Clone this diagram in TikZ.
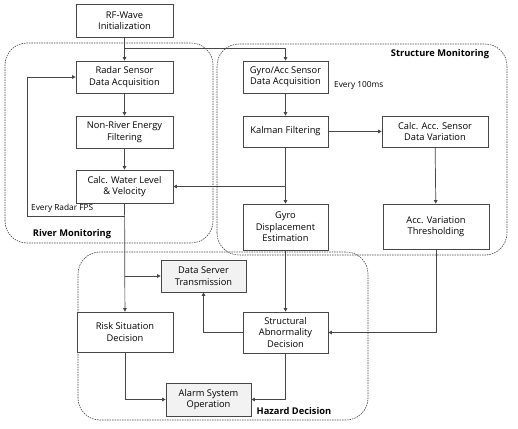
\documentclass[tikz,border=0pt]{standalone}
\usepackage{fontspec}
\setmainfont{Open Sans}
\usetikzlibrary{arrows.meta}
\definecolor{lineColor}{RGB}{70,70,70}
\definecolor{boxFill}{RGB}{242,242,242}
\tikzset{
  stagebox/.style={draw=lineColor,line width=0.7pt,fill=white,align=center,
    inner sep=0pt,font=\fontsize{9.3}{11.5}\selectfont},
  serverbox/.style={stagebox,fill=boxFill},
  flow/.style={draw=lineColor,line width=0.7pt,-{Triangle[length=3.5pt,width=3.5pt]}},
  group/.style={draw=lineColor,line width=0.6pt,dash pattern=on 1.5pt off 1pt,rounded corners=22pt},
  grouplabel/.style={font=\fontsize{9.3}{11}\selectfont\bfseries,inner sep=0pt},
  note/.style={font=\fontsize{8.3}{10}\selectfont,inner sep=0pt,anchor=west}
}
\begin{document}
\begin{tikzpicture}[x=1pt,y=1pt]
\path[use as bounding box,fill=white] (0,0) rectangle (518,428);

% monitoring groups
\draw[group] (  5.00,185.00) rectangle (213.00,385.00);
\draw[group] (217.00,173.00) rectangle (507.00,384.00);
\draw[group] ( 78.00,  8.00) rectangle (368.00,176.00);
\node[grouplabel] (rivlabel) at ( 72.00,194.00) {River Monitoring};
\node[grouplabel] (strlabel) at (440.00,374.00) {Structure Monitoring};
\node[grouplabel] (hazlabel) at (294.00, 17.00) {Hazard Decision};

% river branch
\node[stagebox,minimum width=97pt,minimum height=33pt] (rf) at (124.50,407.50) {RF-Wave\\Initialization};
\node[stagebox,minimum width=97pt,minimum height=32pt] (radar) at (124.50,351.00) {Radar Sensor\\Data Acquisition};
\node[stagebox,minimum width=97pt,minimum height=32pt] (nonriver) at (124.50,296.00) {Non-River Energy\\Filtering};
\node[stagebox,minimum width=97pt,minimum height=33pt] (water) at (124.50,241.50) {Calc. Water Level\\\& Velocity};

% structure branch
\node[stagebox,minimum width=85pt,minimum height=32pt] (gyroacc) at (285.50,351.00) {Gyro/Acc Sensor\\Data Acquisition};
\node[stagebox,minimum width=85pt,minimum height=31pt] (kalman) at (285.50,296.50) {Kalman Filtering};
\node[stagebox,minimum width=106pt,minimum height=31pt] (calcacc) at (435.00,296.50) {Calc. Acc. Sensor\\Data Variation};
\node[stagebox,minimum width=85pt,minimum height=46pt] (gyrodisp) at (285.50,201.00) {Gyro\\Displacement\\Estimation};
\node[stagebox,minimum width=106pt,minimum height=45pt] (accvar) at (436.00,201.50) {Acc. Variation\\Thresholding};

% hazard decision
\node[stagebox,minimum width=85pt,minimum height=41pt] (struct) at (285.50, 95.50) {Structural\\Abnormality\\Decision};
\node[stagebox,minimum width=96pt,minimum height=40pt] (risk) at (125.00, 96.00) {Risk Situation\\Decision};
\node[serverbox,minimum width=85pt,minimum height=32pt] (server) at (203.50,152.00) {Data Server\\Transmission};
\node[serverbox,minimum width=85pt,minimum height=33pt] (alarm) at (208.50, 28.50) {Alarm System\\Operation};

\node[note] (fpsnote) at ( 31.00,220.00) {Every Radar FPS};
\node[note] (msnote) at (334.00,343.00) {Every 100ms};

\coordinate (split) at (124.50,380.00);
\coordinate (fps) at (124.50,212.00);
\coordinate (fpsturn) at ( 27.00,212.00);

% connectors
\draw[flow] (rf) -- (radar);
\draw[flow] (split) -| (gyroacc);
\draw[flow] (radar) -- (nonriver);
\draw[flow] (nonriver) -- (water);
\draw[flow] (water) -- (risk);
\draw[flow] (fps) -- (fpsturn) |- (radar.west);
\draw[flow] (water.south |- server) -- (server.west);
\draw[flow] (gyroacc) -- (kalman);
\draw[flow] (kalman) -- (calcacc);
\draw[flow] (kalman) -- (gyrodisp);
\draw[flow] (kalman.south |- water) -- (water.east);
\draw[flow] (calcacc) -- (accvar);
\draw[flow] (accvar) |- (struct);
\draw[flow] (gyrodisp) -- (struct);
\draw[flow] (struct) -| (server);
\draw[flow] (struct) |- (alarm);
\draw[flow] (risk) |- (alarm);
\end{tikzpicture}
\end{document}
